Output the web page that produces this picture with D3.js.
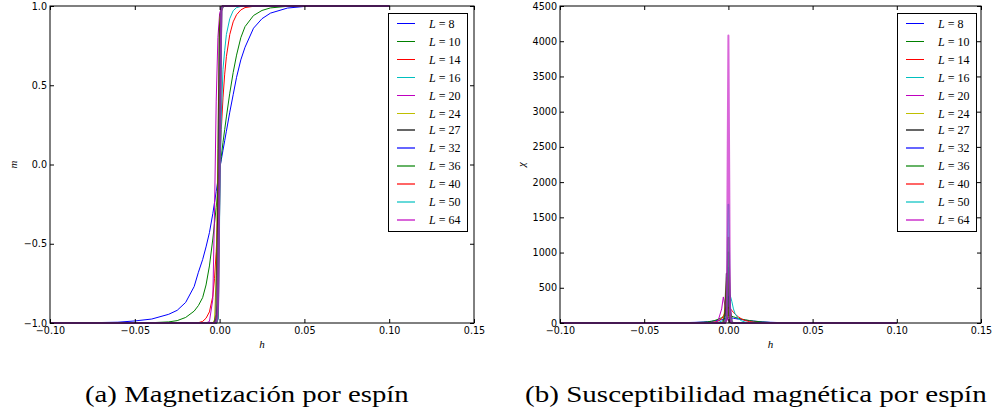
<!DOCTYPE html>
<html>
<head>
<meta charset="utf-8">
<script src="https://cdn.jsdelivr.net/npm/d3@7"></script>
<style>
  html, body { margin: 0; padding: 0; background: #fff; }
  svg { display: block; }
  .tick text { font-family: "DejaVu Sans", sans-serif; font-size: 9.6px; fill: #000; }
  .tick line { stroke: #000; stroke-width: 1; }
</style>
</head>
<body>
<svg id="fig" width="995" height="412"></svg>
<script>
// Lattice sizes and their line colours (classic b, g, r, c, m, y, k cycle)
const sizes = [8, 10, 14, 16, 20, 24, 27, 32, 36, 40, 50, 64];
const lineColors = ["#0000ff", "#008000", "#ff0000", "#00bfbf", "#bf00bf", "#bfbf00",
                    "#000000", "#0000ff", "#008000", "#ff0000", "#00bfbf", "#bf00bf"];

// External field values h (finer near h = 0)
const hField = [-0.10, -0.08, -0.06, -0.05, -0.04, -0.03, -0.025, -0.02, -0.015, -0.0125,
                -0.01, -0.008, -0.006, -0.004, -0.003, -0.002, -0.001, 0, 0.001, 0.002,
                0.003, 0.004, 0.006, 0.008, 0.01, 0.0125, 0.015, 0.02, 0.025, 0.03,
                0.04, 0.05, 0.06, 0.08, 0.10];

// Magnetisation per spin m(h)
const m_L8  = [-1.0, -0.999, -0.995, -0.987, -0.975, -0.945, -0.92, -0.87, -0.77, -0.68,
               -0.6, -0.52, -0.43, -0.31, -0.24, -0.17, -0.1, -0.03, 0.03, 0.09,
               0.15, 0.21, 0.33, 0.44, 0.55, 0.66, 0.74, 0.86, 0.92, 0.955,
               0.987, 0.997, 0.999, 1.0, 1.0];
const m_L10 = [-1.0, -1.0, -1.0, -0.999, -0.998, -0.993, -0.985, -0.965, -0.925, -0.89,
               -0.84, -0.76, -0.64, -0.47, -0.37, -0.27, -0.16, -0.05, 0.05, 0.14,
               0.22, 0.3, 0.45, 0.58, 0.69, 0.8, 0.87, 0.94, 0.972, 0.988,
               0.998, 1.0, 1.0, 1.0, 1.0];
const m_L14 = [-1.0, -1.0, -1.0, -1.0, -1.0, -1.0, -1.0, -1.0, -0.999, -0.998,
               -0.99, -0.97, -0.93, -0.83, -0.72, -0.55, -0.3, 0.0, 0.22, 0.42,
               0.57, 0.68, 0.82, 0.9, 0.945, 0.975, 0.99, 0.998, 1.0, 1.0,
               1.0, 1.0, 1.0, 1.0, 1.0];
const m_L16 = [-1.0, -1.0, -1.0, -1.0, -1.0, -1.0, -1.0, -1.0, -1.0, -1.0,
               -1.0, -1.0, -1.0, -0.999, -0.995, -0.97, -0.85, -0.3, 0.3, 0.6,
               0.72, 0.82, 0.92, 0.97, 0.99, 0.997, 1.0, 1.0, 1.0, 1.0,
               1.0, 1.0, 1.0, 1.0, 1.0];
const m_L20 = [-1.0, -1.0, -1.0, -1.0, -1.0, -1.0, -1.0, -1.0, -1.0, -1.0,
               -1.0, -1.0, -0.99, -0.85, -0.3, 0.4, 0.8, 0.95, 0.99, 0.998,
               1.0, 1.0, 1.0, 1.0, 1.0, 1.0, 1.0, 1.0, 1.0, 1.0,
               1.0, 1.0, 1.0, 1.0, 1.0];
const m_L24 = [-1.0, -1.0, -1.0, -1.0, -1.0, -1.0, -1.0, -1.0, -1.0, -1.0,
               -1.0, -1.0, -1.0, -1.0, -0.98, -0.7, 0.1, 0.9, 0.99, 1.0,
               1.0, 1.0, 1.0, 1.0, 1.0, 1.0, 1.0, 1.0, 1.0, 1.0,
               1.0, 1.0, 1.0, 1.0, 1.0];
const m_L27 = [-1.0, -1.0, -1.0, -1.0, -1.0, -1.0, -1.0, -1.0, -1.0, -1.0,
               -1.0, -1.0, -1.0, -1.0, -1.0, -0.95, -0.3, 0.85, 0.99, 1.0,
               1.0, 1.0, 1.0, 1.0, 1.0, 1.0, 1.0, 1.0, 1.0, 1.0,
               1.0, 1.0, 1.0, 1.0, 1.0];
const m_L32 = [-1.0, -1.0, -1.0, -1.0, -1.0, -1.0, -1.0, -1.0, -1.0, -1.0,
               -1.0, -1.0, -1.0, -1.0, -1.0, -1.0, -0.97, 0.2, 0.97, 1.0,
               1.0, 1.0, 1.0, 1.0, 1.0, 1.0, 1.0, 1.0, 1.0, 1.0,
               1.0, 1.0, 1.0, 1.0, 1.0];
const m_L36 = [-1.0, -1.0, -1.0, -1.0, -1.0, -1.0, -1.0, -1.0, -1.0, -1.0,
               -1.0, -1.0, -1.0, -1.0, -1.0, -1.0, -0.95, 0.1, 0.98, 1.0,
               1.0, 1.0, 1.0, 1.0, 1.0, 1.0, 1.0, 1.0, 1.0, 1.0,
               1.0, 1.0, 1.0, 1.0, 1.0];
const m_L40 = [-1.0, -1.0, -1.0, -1.0, -1.0, -1.0, -1.0, -1.0, -1.0, -1.0,
               -1.0, -1.0, -1.0, -1.0, -1.0, -1.0, -0.96, 0.0, 0.97, 1.0,
               1.0, 1.0, 1.0, 1.0, 1.0, 1.0, 1.0, 1.0, 1.0, 1.0,
               1.0, 1.0, 1.0, 1.0, 1.0];
const m_L50 = [-1.0, -1.0, -1.0, -1.0, -1.0, -1.0, -1.0, -1.0, -1.0, -1.0,
               -1.0, -1.0, -1.0, -1.0, -1.0, -1.0, -0.97, -0.1, 0.98, 1.0,
               1.0, 1.0, 1.0, 1.0, 1.0, 1.0, 1.0, 1.0, 1.0, 1.0,
               1.0, 1.0, 1.0, 1.0, 1.0];
const m_L64 = [-1.0, -1.0, -1.0, -1.0, -1.0, -1.0, -1.0, -1.0, -1.0, -1.0,
               -1.0, -1.0, -1.0, -1.0, -1.0, -0.99, -0.9, -0.05, 0.995, 1.0,
               1.0, 1.0, 1.0, 1.0, 1.0, 1.0, 1.0, 1.0, 1.0, 1.0,
               1.0, 1.0, 1.0, 1.0, 1.0];

// Magnetic susceptibility per spin chi(h)
const chi_L8  = [0, 0.1, 0.4, 0.9, 2, 4, 6, 9, 14, 18,
                 24, 30, 38, 47, 55, 62, 68, 72, 74, 72,
                 68, 63, 55, 48, 40, 33, 27, 17, 10, 6,
                 2.5, 1, 0.4, 0.1, 0];
const chi_L10 = [0, 0, 0.1, 0.3, 0.8, 2, 3.5, 6, 11, 16,
                 24, 36, 55, 75, 88, 100, 108, 110, 105, 96,
                 88, 80, 66, 55, 45, 35, 26, 14, 7, 3.5,
                 1, 0.3, 0.1, 0, 0];
const chi_L14 = [0, 0, 0, 0, 0, 0.1, 0.3, 0.8, 2, 4,
                 8, 14, 28, 60, 100, 150, 195, 215, 205, 180,
                 150, 125, 85, 55, 35, 20, 11, 4, 1.5, 0.5,
                 0.1, 0, 0, 0, 0];
const chi_L16 = [0, 0, 0, 0, 0, 0, 0, 0, 0.2, 0.5,
                 1.5, 4, 10, 25, 50, 110, 240, 370, 400, 310,
                 200, 130, 60, 28, 13, 5, 2, 0.5, 0.1, 0,
                 0, 0, 0, 0, 0];
const chi_L20 = [0, 0, 0, 0, 0, 0, 0, 0, 0, 0,
                 0.5, 2, 40, 200, 370, 240, 90, 30, 8, 2,
                 0.5, 0, 0, 0, 0, 0, 0, 0, 0, 0,
                 0, 0, 0, 0, 0];
const chi_L24 = [0, 0, 0, 0, 0, 0, 0, 0, 0, 0,
                 0, 0, 0, 2, 30, 250, 650, 120, 15, 2,
                 0, 0, 0, 0, 0, 0, 0, 0, 0, 0,
                 0, 0, 0, 0, 0];
const chi_L27 = [0, 0, 0, 0, 0, 0, 0, 0, 0, 0,
                 0, 0, 0, 0, 5, 120, 700, 180, 10, 1,
                 0, 0, 0, 0, 0, 0, 0, 0, 0, 0,
                 0, 0, 0, 0, 0];
const chi_L32 = [0, 0, 0, 0, 0, 0, 0, 0, 0, 0,
                 0, 0, 0, 0, 0, 10, 60, 780, 220, 10,
                 1, 0, 0, 0, 0, 0, 0, 0, 0, 0,
                 0, 0, 0, 0, 0];
const chi_L36 = [0, 0, 0, 0, 0, 0, 0, 0, 0, 0,
                 0, 0, 0, 0, 0, 5, 90, 1000, 150, 5,
                 0, 0, 0, 0, 0, 0, 0, 0, 0, 0,
                 0, 0, 0, 0, 0];
const chi_L40 = [0, 0, 0, 0, 0, 0, 0, 0, 0, 0,
                 0, 0, 0, 0, 0, 3, 70, 1210, 180, 4,
                 0, 0, 0, 0, 0, 0, 0, 0, 0, 0,
                 0, 0, 0, 0, 0];
const chi_L50 = [0, 0, 0, 0, 0, 0, 0, 0, 0, 0,
                 0, 0, 0, 0, 0, 2, 100, 1680, 120, 2,
                 0, 0, 0, 0, 0, 0, 0, 0, 0, 0,
                 0, 0, 0, 0, 0];
const chi_L64 = [0, 0, 0, 0, 0, 0, 0, 0, 0, 0,
                 0, 0, 0, 0, 0, 1, 50, 4080, 60, 1,
                 0, 0, 0, 0, 0, 0, 0, 0, 0, 0,
                 0, 0, 0, 0, 0];

// Axis ticks
const hTicks   = [-0.10, -0.05, 0.00, 0.05, 0.10, 0.15];
const mTicks   = [-1.0, -0.5, 0.0, 0.5, 1.0];
const chiTicks = [0, 500, 1000, 1500, 2000, 2500, 3000, 3500, 4000, 4500];

// Captions
const captionA = "(a) Magnetización por espín";
const captionB = "(b) Susceptibilidad magnética por espín";

const mSeries   = [m_L8, m_L10, m_L14, m_L16, m_L20, m_L24, m_L27, m_L32, m_L36, m_L40, m_L50, m_L64];
const chiSeries = [chi_L8, chi_L10, chi_L14, chi_L16, chi_L20, chi_L24, chi_L27, chi_L32, chi_L36, chi_L40, chi_L50, chi_L64];

const svg = d3.select("#fig");

// second colour cycle is drawn wider and semi-transparent
const lineWidth = i => (i >= 6 ? 2 : 1);
const lineAlpha = i => (i >= 6 ? 0.6 : 1);

function drawPanel(cfg) {
  const x = d3.scaleLinear().domain([-0.10, 0.15]).range([cfg.left, cfg.right]);
  const y = d3.scaleLinear().domain(cfg.yDomain).range([cfg.bottom, cfg.top]);
  const g = svg.append("g");

  // curves
  const line = d3.line().x(d => x(d[0])).y(d => y(d[1]));
  cfg.series.forEach((vals, i) => {
    const pts = hField.map((h, k) => [h, vals[k]]);
    g.append("path")
      .datum(pts)
      .attr("d", line)
      .attr("fill", "none")
      .attr("stroke", lineColors[i])
      .attr("stroke-width", lineWidth(i))
      .attr("stroke-opacity", lineAlpha(i))
      .attr("stroke-linejoin", "round");
  });

  // axes with inward ticks on all four sides
  const bottom = g.append("g").attr("transform", `translate(0,${cfg.bottom})`)
    .call(d3.axisBottom(x).tickValues(hTicks).tickFormat(d3.format(".2f"))
      .tickSizeInner(-4).tickSizeOuter(0).tickPadding(4));
  const topAx = g.append("g").attr("transform", `translate(0,${cfg.top})`)
    .call(d3.axisTop(x).tickValues(hTicks).tickFormat("").tickSizeInner(-4).tickSizeOuter(0));
  const leftAx = g.append("g").attr("transform", `translate(${cfg.left},0)`)
    .call(d3.axisLeft(y).tickValues(cfg.yTicks).tickFormat(cfg.yFormat)
      .tickSizeInner(-4).tickSizeOuter(0).tickPadding(3));
  const rightAx = g.append("g").attr("transform", `translate(${cfg.right},0)`)
    .call(d3.axisRight(y).tickValues(cfg.yTicks).tickFormat("").tickSizeInner(-4).tickSizeOuter(0));
  [bottom, topAx, leftAx, rightAx].forEach(a => a.select(".domain").remove());

  // frame
  g.append("rect")
    .attr("x", cfg.left).attr("y", cfg.top)
    .attr("width", cfg.right - cfg.left).attr("height", cfg.bottom - cfg.top)
    .attr("fill", "none").attr("stroke", "#000").attr("stroke-width", 1);

  // axis labels
  g.append("text")
    .attr("x", (cfg.left + cfg.right) / 2).attr("y", 348)
    .attr("text-anchor", "middle")
    .attr("font-family", "Liberation Serif, serif").attr("font-style", "italic")
    .attr("font-size", 11).text("h");
  g.append("text")
    .attr("transform", `translate(${cfg.yLabelX},${(cfg.top + cfg.bottom) / 2}) rotate(-90)`)
    .attr("text-anchor", "middle")
    .attr("font-family", "Liberation Serif, serif").attr("font-style", "italic")
    .attr("font-size", 11).text(cfg.yLabel);

  // legend
  const lx = cfg.legendX, ly = 13;
  const leg = g.append("g");
  leg.append("rect")
    .attr("x", lx + 0.5).attr("y", ly + 0.5).attr("width", 79).attr("height", 218)
    .attr("fill", "#fff").attr("stroke", "#000").attr("stroke-width", 1);
  sizes.forEach((L, i) => {
    const yy = Math.round(23 + i * 17.9) + (lineWidth(i) === 1 ? 0.5 : 0);
    leg.append("line")
      .attr("x1", lx + 9).attr("x2", lx + 27).attr("y1", yy).attr("y2", yy)
      .attr("stroke", lineColors[i]).attr("stroke-width", lineWidth(i))
      .attr("stroke-opacity", lineAlpha(i));
    const t = leg.append("text")
      .attr("x", lx + 41).attr("y", yy + 4)
      .attr("font-family", "Liberation Serif, serif").attr("font-size", 12);
    t.append("tspan").attr("font-style", "italic").text("L");
    t.append("tspan").text("\u2005=\u2005" + L);
  });

  // caption, widened horizontally to its column width
  const cap = svg.append("text")
    .attr("x", 0).attr("y", 0)
    .attr("font-family", "Liberation Serif, serif").attr("font-size", 23.5)
    .text(cfg.caption);
  const natural = cap.node().getComputedTextLength();
  const sx = cfg.captionW / natural;
  cap.attr("transform", `translate(${cfg.captionX},401.5) scale(${sx},1)`);
}

drawPanel({
  left: 50, right: 474, top: 6, bottom: 323,
  yDomain: [-1, 1], yTicks: mTicks, yFormat: d3.format(".1f"),
  series: mSeries, yLabel: "m", yLabelX: 17,
  legendX: 388, caption: captionA, captionX: 85, captionW: 324
});

drawPanel({
  left: 560, right: 981, top: 6, bottom: 323,
  yDomain: [0, 4500], yTicks: chiTicks, yFormat: d3.format("d"),
  series: chiSeries, yLabel: "\u03c7", yLabelX: 525,
  legendX: 897, caption: captionB, captionX: 525, captionW: 462
});
</script>
</body>
</html>
